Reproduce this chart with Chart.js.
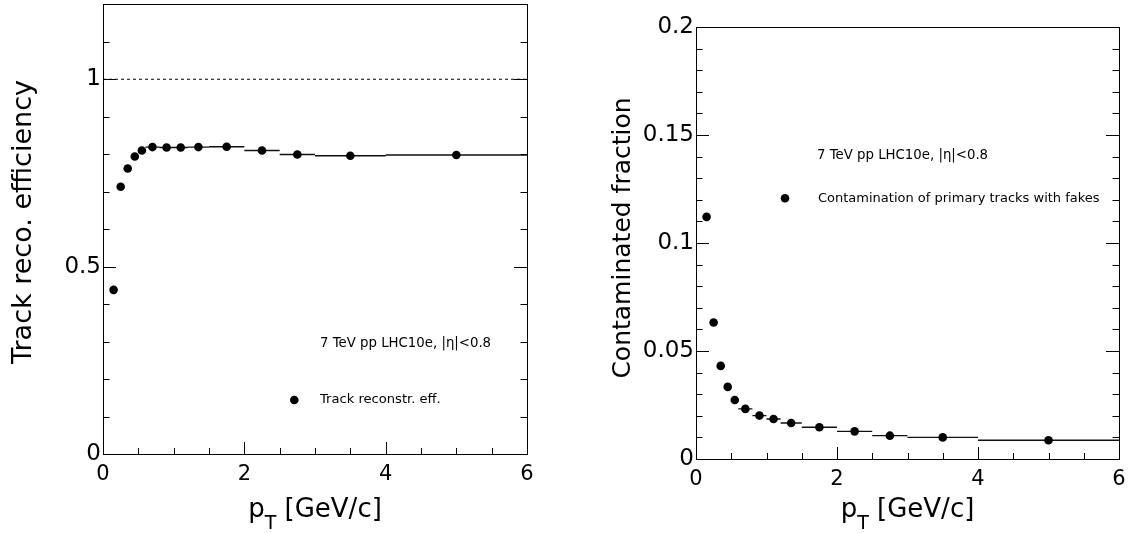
<!DOCTYPE html>
<html><head><meta charset="utf-8">
<script src="https://cdn.jsdelivr.net/npm/chart.js@4.4.0/dist/chart.umd.min.js"></script>
<style>
html,body{margin:0;padding:0;background:#fff;}
#wrap{position:relative;width:1131px;height:533px;overflow:hidden;background:#fff;}
.pane{position:absolute;top:0;height:533px;}
</style></head><body>
<div id="wrap">
<div class="pane" style="left:0;width:565px"><canvas id="c1" width="565" height="533"></canvas></div>
<div class="pane" style="left:565px;width:566px"><canvas id="c2" width="566" height="533"></canvas></div>
</div>
<script>
// ---- data ----
const binLow   = [0.1,0.2,0.3,0.4,0.5,0.6,0.8,1.0,1.2,1.5,2.0,2.5,3.0,4.0];
const binHigh  = [0.2,0.3,0.4,0.5,0.6,0.8,1.0,1.2,1.5,2.0,2.5,3.0,4.0,6.0];
const ptCenter = [0.15,0.25,0.35,0.45,0.55,0.7,0.9,1.1,1.35,1.75,2.25,2.75,3.5,5.0];
const efficiency    = [0.438,0.713,0.762,0.794,0.810,0.819,0.818,0.818,0.819,0.820,0.810,0.799,0.796,0.798];
const contamination = [0.1121,0.0632,0.0431,0.0334,0.0273,0.0232,0.0201,0.0185,0.0167,0.0147,0.0128,0.0108,0.0100,0.0087];
const xTickLabels    = [0,2,4,6];
const effTickLabels  = [0,0.5,1];
const contTickLabels = [0,0.05,0.1,0.15,0.2];
const referenceX     = [0,6];
const referenceLevel = [1,1];

Chart.defaults.font.family = "'DejaVu Sans', sans-serif";
Chart.defaults.color = '#000';

const fmt = v => String(Math.round(v*10000)/10000);
const labeler = list => v => list.some(l => Math.abs(l - v) < 1e-9) ? fmt(v) : '';

const FONT = "'DejaVu Sans', sans-serif";

const insideTicks = {
  id: 'insideTicks',
  afterDraw(chart, args, o) {
    const {ctx, chartArea: a, scales: {x, y}} = chart;
    ctx.save();
    ctx.strokeStyle = '#000'; ctx.lineWidth = 1;
    ctx.beginPath();
    x.ticks.forEach(t => {
      const px = Math.round(x.getPixelForValue(t.value)) + 0.5;
      const L = t.label !== '' ? o.xMajor : o.xMinor;
      ctx.moveTo(px, a.bottom); ctx.lineTo(px, a.bottom - L);
    });
    y.ticks.forEach(t => {
      const py = Math.round(y.getPixelForValue(t.value)) + 0.5;
      const L = t.label !== '' ? o.yMajor : o.yMinor;
      ctx.moveTo(a.left, py); ctx.lineTo(a.left + L, py);
      ctx.moveTo(a.right, py); ctx.lineTo(a.right - L, py);
    });
    ctx.stroke();
    ctx.strokeRect(Math.round(a.left) + 0.5, Math.round(a.top) + 0.5,
                   Math.round(a.right - a.left), Math.round(a.bottom - a.top));
    ctx.restore();
  }
};

const binBars = {
  id: 'binBars',
  beforeDatasetsDraw(chart, args, o) {
    const {ctx, scales: {x, y}} = chart;
    ctx.save();
    ctx.strokeStyle = '#111'; ctx.lineWidth = 1.4;
    ctx.beginPath();
    o.values.forEach((v, i) => {
      const py = y.getPixelForValue(v);
      ctx.moveTo(x.getPixelForValue(o.low[i]), py);
      ctx.lineTo(x.getPixelForValue(o.high[i]), py);
    });
    ctx.stroke();
    ctx.restore();
  }
};

const texts = {
  id: 'texts',
  afterDraw(chart, args, o) {
    const {ctx, chartArea: a} = chart;
    ctx.save();
    ctx.fillStyle = '#000';
    // x title with subscript
    const xt = o.xTitle;
    const mainF = xt.size + 'px ' + FONT, subF = xt.subSize + 'px ' + FONT;
    ctx.font = mainF; const w1 = ctx.measureText(xt.a).width, w3 = ctx.measureText(xt.c).width;
    ctx.font = subF;  const w2 = ctx.measureText(xt.b).width;
    let sx = (a.left + a.right) / 2 - (w1 + w2 + w3) / 2;
    ctx.textBaseline = 'alphabetic'; ctx.textAlign = 'left';
    ctx.font = mainF; ctx.fillText(xt.a, sx, xt.base);
    ctx.font = subF;  ctx.fillText(xt.b, sx + w1, xt.base + xt.subDrop);
    ctx.font = mainF; ctx.fillText(xt.c, sx + w1 + w2, xt.base);
    // y title
    const yt = o.yTitle;
    ctx.save();
    ctx.translate(yt.x, yt.y); ctx.rotate(-Math.PI / 2);
    ctx.font = yt.size + 'px ' + FONT; ctx.textAlign = 'center'; ctx.textBaseline = 'alphabetic';
    ctx.fillText(yt.text, 0, 0);
    ctx.restore();
    // annotations
    ctx.textAlign = 'left'; ctx.textBaseline = 'middle';
    o.notes.forEach(n => { ctx.font = n.size + 'px ' + FONT; ctx.fillText(n.text, n.x, n.y); });
    // legend entry
    const lg = o.legend;
    ctx.beginPath(); ctx.arc(lg.mx, lg.my, lg.r, 0, Math.PI * 2); ctx.fill();
    ctx.font = lg.size + 'px ' + FONT; ctx.fillText(lg.text, lg.tx, lg.my);
    ctx.restore();
  }
};

function makeChart(id, cfg) {
  const points = ptCenter.map((p, i) => ({x: p, y: cfg.values[i]}));
  const datasets = [{
    type: 'scatter', data: points, pointRadius: 4.3, pointHoverRadius: 4.3,
    pointBackgroundColor: '#000', pointBorderColor: '#000', pointBorderWidth: 0, showLine: false
  }];
  if (cfg.ref) datasets.push({
    type: 'line', data: referenceX.map((xv, i) => ({x: xv, y: referenceLevel[i]})),
    borderColor: '#000', borderWidth: 1, borderDash: [3, 3], pointRadius: 0, fill: false
  });
  return new Chart(document.getElementById(id), {
    type: 'scatter',
    data: {datasets},
    options: {
      responsive: false, animation: false,
      layout: {padding: cfg.padding},
      plugins: {
        legend: {display: false}, tooltip: {enabled: false},
        insideTicks: {xMajor: 12, xMinor: 6, yMajor: 13, yMinor: 6.5},
        binBars: {values: cfg.values, low: binLow, high: binHigh},
        texts: cfg.texts
      },
      scales: {
        x: {
          type: 'linear', min: 0, max: 6,
          grid: {display: false, drawTicks: false}, border: {display: false},
          ticks: {stepSize: 0.5, autoSkip: false, maxRotation: 0, padding: 8,
                  font: {size: 21}, callback: labeler(xTickLabels)},
          afterFit: s => { s.height = cfg.xh; s.paddingLeft = 0; s.paddingRight = 0; }
        },
        y: {
          type: 'linear', min: 0, max: cfg.ymax,
          grid: {display: false, drawTicks: false}, border: {display: false},
          ticks: {stepSize: cfg.ystep, autoSkip: false, padding: 2,
                  font: {size: 23}, callback: labeler(cfg.ylabels)},
          afterFit: s => { s.width = cfg.yw; s.paddingTop = 0; s.paddingBottom = 0; }
        }
      }
    },
    plugins: [binBars, insideTicks, texts]
  });
}

makeChart('c1', {
  values: efficiency, ref: true, ymax: 1.2, ystep: 0.1, ylabels: effTickLabels,
  padding: {left: 0, top: 4, right: 38, bottom: 0}, yw: 103, xh: 79,
  texts: {
    xTitle: {a: 'p', b: 'T', c: ' [GeV/c]', size: 26, subSize: 19, base: 517, subDrop: 12},
    yTitle: {text: 'Track reco. efficiency', x: 31, y: 222, size: 27},
    notes: [{text: '7 TeV pp LHC10e, |\u03B7|<0.8', x: 320, y: 344, size: 13.3}],
    legend: {mx: 294.3, my: 400, r: 4.3, tx: 320, text: 'Track reconstr. eff.', size: 13.1}
  }
});

makeChart('c2', {
  values: contamination, ref: false, ymax: 0.2, ystep: 0.01, ylabels: contTickLabels,
  padding: {left: 0, top: 27, right: 12, bottom: 0}, yw: 131, xh: 74,
  texts: {
    xTitle: {a: 'p', b: 'T', c: ' [GeV/c]', size: 26, subSize: 19, base: 517, subDrop: 12},
    yTitle: {text: 'Contaminated fraction', x: 630 - 565, y: 238, size: 25},
    notes: [{text: '7 TeV pp LHC10e, |\u03B7|<0.8', x: 817 - 565, y: 156, size: 13.3}],
    legend: {mx: 785 - 565, my: 198.3, r: 4.3, tx: 818 - 565, text: 'Contamination of primary tracks with fakes', size: 13}
  }
});
</script>
</body></html>
